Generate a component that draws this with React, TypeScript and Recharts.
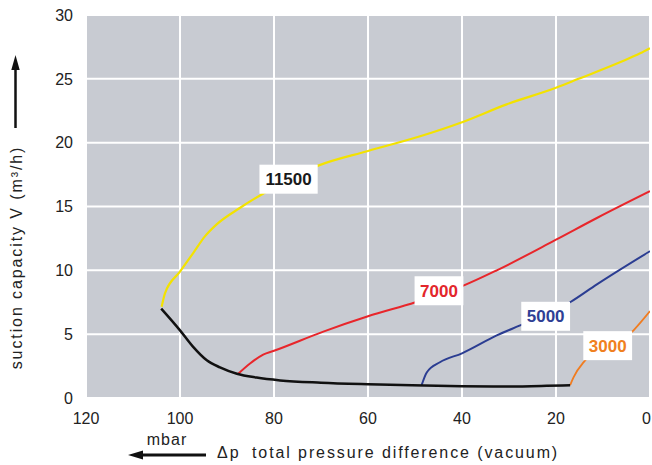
import React from "react";
import { LineChart, Line, XAxis, YAxis, CartesianGrid, ReferenceDot } from "recharts";

type Pt = { x: number; y: number };

const xTicks = [0, 20, 40, 60, 80, 100, 120];
const yTicks = [0, 5, 10, 15, 20, 25, 30];

const speed11500: Pt[] = [
  { x: 103.9, y: 7.15 }, { x: 103.2, y: 8.2 }, { x: 100, y: 9.9 }, { x: 97.2, y: 11.35 },
  { x: 94.7, y: 12.66 }, { x: 92.2, y: 13.6 }, { x: 87.2, y: 14.9 }, { x: 81.9, y: 16.1 },
  { x: 70.6, y: 18.2 }, { x: 60, y: 19.35 }, { x: 48.9, y: 20.5 }, { x: 40, y: 21.6 },
  { x: 30.5, y: 23.0 }, { x: 20, y: 24.3 }, { x: 15.2, y: 25.0 }, { x: 6.4, y: 26.3 },
  { x: 2.1, y: 27.0 }, { x: 0, y: 27.4 },
];

const speed7000: Pt[] = [
  { x: 87.6, y: 1.9 }, { x: 85.1, y: 2.7 }, { x: 82.3, y: 3.4 }, { x: 80, y: 3.7 },
  { x: 69.5, y: 5.2 }, { x: 60, y: 6.4 }, { x: 49.9, y: 7.5 }, { x: 39.7, y: 8.8 },
  { x: 32.6, y: 10.0 }, { x: 20, y: 12.4 }, { x: 11.3, y: 14.1 }, { x: 0, y: 16.2 },
];

const speed5000: Pt[] = [
  { x: 48.6, y: 1.0 }, { x: 47.5, y: 2.0 }, { x: 44.7, y: 2.8 }, { x: 40, y: 3.5 },
  { x: 32.6, y: 4.9 }, { x: 26.9, y: 5.8 }, { x: 17, y: 7.5 }, { x: 11.3, y: 8.9 },
  { x: 0, y: 11.5 },
];

const speed3000: Pt[] = [
  { x: 17, y: 1.0 }, { x: 16.3, y: 1.6 }, { x: 13.8, y: 2.95 }, { x: 3.5, y: 5.3 },
  { x: 0, y: 6.8 },
];

const limitCurve: Pt[] = [
  { x: 104, y: 7.0 }, { x: 100, y: 5.3 }, { x: 97.2, y: 4.0 }, { x: 94.3, y: 2.95 },
  { x: 91.5, y: 2.4 }, { x: 87.9, y: 1.9 }, { x: 83.7, y: 1.6 }, { x: 78.7, y: 1.38 },
  { x: 70, y: 1.2 }, { x: 60, y: 1.08 }, { x: 48, y: 0.98 }, { x: 40, y: 0.92 },
  { x: 30, y: 0.9 }, { x: 22, y: 0.95 }, { x: 17, y: 1.0 },
];

const curveLabels = [
  { text: "11500", x: 76.9, y: 17.14, color: "#1a1a1a" },
  { text: "7000", x: 44.9, y: 8.4, color: "#e3262b" },
  { text: "5000", x: 22.2, y: 6.4, color: "#2f3f95" },
  { text: "3000", x: 9.0, y: 4.1, color: "#f08020" },
];

const FONT = "'Liberation Sans', Arial, Helvetica, sans-serif";
const CHART_W = 652;

const makeLabelShape = (text: string, color: string) => (props: any) => {
  const { cx, cy } = props;
  const w = text.length * 9.45 + 11;
  const h = 29;
  return (
    <g>
      <rect x={cx - w / 2} y={cy - h / 2} width={w} height={h} fill="#ffffff" />
      <text
        x={cx}
        y={cy + 6}
        textAnchor="middle"
        fontFamily={FONT}
        fontSize={17}
        fontWeight="bold"
        fill={color}
      >
        {text}
      </text>
    </g>
  );
};

const XTick = (props: any) => {
  const { x, y, payload } = props;
  const label = String(payload.value);
  const half = label.length * 4.45;
  const cx = Math.min(x, CHART_W - 1 - half);
  return (
    <text x={cx} y={y} dy="0.71em" textAnchor="middle" fontFamily={FONT} fontSize={16} fill="#222">
      {label}
    </text>
  );
};

export default function App() {
  return (
    <div style={{ position: "absolute", left: 0, top: 0, width: 652, height: 465, background: "#fff" }}>
      <LineChart width={CHART_W} height={465} margin={{ top: 15, right: 2, bottom: 0, left: 0 }}>
        <CartesianGrid fill="#c8cbd2" stroke="#ffffff" strokeWidth={2} />
        <XAxis
          type="number"
          dataKey="x"
          domain={[0, 120]}
          ticks={xTicks}
          reversed
          allowDataOverflow
          height={67}
          axisLine={false}
          tickLine={false}
          tickSize={6}
          tickMargin={9}
          interval={0}
          tick={<XTick />}
        />
        <YAxis
          type="number"
          dataKey="y"
          domain={[0, 30]}
          ticks={yTicks}
          width={86}
          axisLine={false}
          tickLine={false}
          tickSize={6}
          tickMargin={7}
          interval={0}
          tick={{ fontSize: 16, fill: "#222", fontFamily: FONT }}
        />
        <Line data={speed11500} dataKey="y" type="monotone" stroke="#f3e200" strokeWidth={2.2} dot={false} isAnimationActive={false} />
        <Line data={speed7000} dataKey="y" type="monotone" stroke="#e8262b" strokeWidth={2} dot={false} isAnimationActive={false} />
        <Line data={speed5000} dataKey="y" type="monotone" stroke="#2b3d92" strokeWidth={2} dot={false} isAnimationActive={false} />
        <Line data={speed3000} dataKey="y" type="monotone" stroke="#f07c20" strokeWidth={1.8} dot={false} isAnimationActive={false} />
        <Line data={limitCurve} dataKey="y" type="monotone" stroke="#111111" strokeWidth={2.5} dot={false} isAnimationActive={false} />
        {curveLabels.map((l) => (
          <ReferenceDot
            key={l.text}
            x={l.x}
            y={l.y}
            r={1}
            ifOverflow="visible"
            shape={makeLabelShape(l.text, l.color)}
          />
        ))}
      </LineChart>
      <svg
        width={652}
        height={465}
        style={{ position: "absolute", left: 0, top: 0, pointerEvents: "none" }}
      >
        <line x1={15.5} y1={128} x2={15.5} y2={66} stroke="#111" strokeWidth={2.5} />
        <polygon points="15.5,55 11.3,70 19.7,70" fill="#111" />
        <text
          x={22}
          y={257.5}
          transform="rotate(-90 22 257.5)"
          textAnchor="middle"
          fontFamily={FONT}
          fontSize={16}
          letterSpacing={1.9}
          fill="#222"
        >
          suction capacity V (m³/h)
        </text>
        <text x={167} y={445} textAnchor="middle" fontFamily={FONT} fontSize={16} letterSpacing={1} fill="#222">
          mbar
        </text>
        <line x1={206} y1={455} x2={140} y2={455} stroke="#111" strokeWidth={3} />
        <polygon points="128,455 143,450.5 143,459.5" fill="#111" />
        <text x={217} y={458} fontFamily={FONT} fontSize={16} letterSpacing={2} fill="#222">
          Δp
        </text>
        <text x={252} y={458} fontFamily={FONT} fontSize={16} letterSpacing={1.9} fill="#222">
          total pressure difference (vacuum)
        </text>
      </svg>
    </div>
  );
}
